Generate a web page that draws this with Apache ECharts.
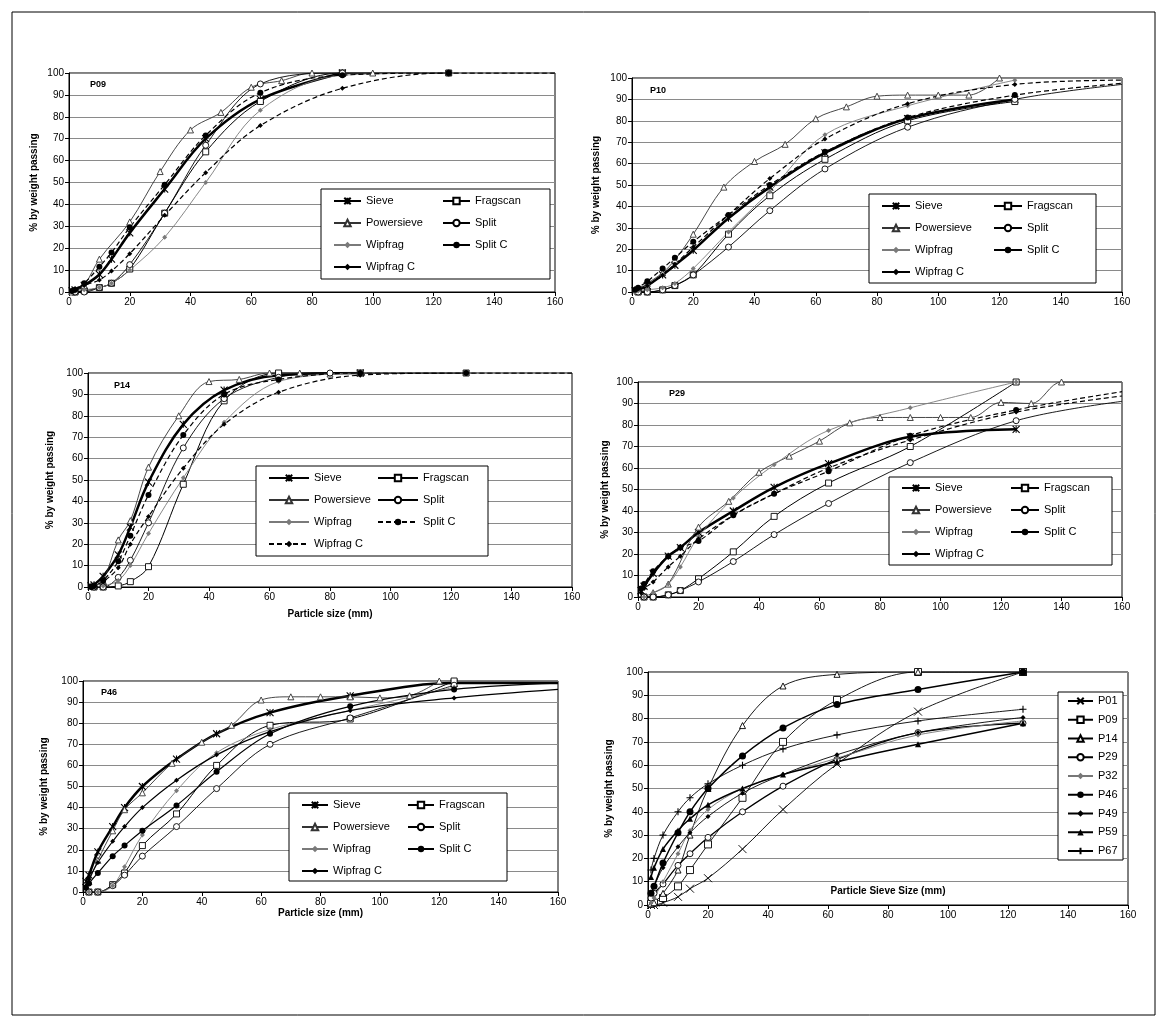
<!DOCTYPE html>
<html><head><meta charset="utf-8">
<script src="https://cdn.jsdelivr.net/npm/echarts/dist/echarts.min.js"></script>
<style>html,body{margin:0;padding:0;background:#fff}#c{width:1168px;height:1027px}</style>
</head><body><div id="c"></div>
<script>
// ---------------- DATA (particle size mm, % passing) ----------------
// P09
const p09Sieve      = [[1,0.5],[2,1],[5,3],[10,8],[14,15],[20,27],[31.5,47],[45,70],[63,88],[90,100]];
const p09Fragscan   = [[2,0],[5,0.5],[10,2],[14,4],[20,10.5],[31.5,36],[45,64],[63,87],[90,100],[125,100]];
const p09Powersieve = [[1,0],[2,0.5],[5,3],[10,15],[20,32],[30,55],[40,74],[50,82],[60,93.5],[70,96.5],[80,100],[100,100]];
const p09Split      = [[2,0],[5,0],[10,2],[14,4],[20,12.5],[31.5,36],[45,67],[63,95],[90,100],[125,100]];
const p09Wipfrag    = [[1,0],[2,0.5],[5,1],[10,2],[14,4],[20,10],[31.5,25],[45,50],[63,83],[90,99],[125,100]];
const p09SplitC     = [[1,0.5],[2,1],[5,4],[10,11.5],[14,18],[20,29.5],[31.5,49],[45,71.5],[63,91],[90,99],[125,100],[160,100]];
const p09WipfragC   = [[1,0.5],[2,1],[5,3],[10,5.5],[14,9.6],[20,17.5],[31.5,35],[45,54.5],[63,76],[90,93],[125,100],[160,100]];
// P10
const p10Sieve      = [[1,0.5],[2,1],[5,3],[10,8],[14,12.5],[20,19.5],[31.5,34.5],[45,49],[63,65],[90,81],[125,90]];
const p10Fragscan   = [[2,0],[5,0],[10,1],[14,3],[20,8],[31.5,27],[45,45],[63,62],[90,80],[125,89]];
const p10Powersieve = [[2,1],[5,4],[10,9],[14,15],[20,27],[30,49],[40,61],[50,69],[60,81],[70,86.5],[80,91.5],[90,92],[100,92],[110,92],[120,100]];
const p10Split      = [[2,0],[5,0],[10,1],[14,3],[20,8],[31.5,21],[45,38],[63,57.5],[90,77],[125,90],[160,97]];
const p10Wipfrag    = [[1,0],[2,0.5],[5,1],[10,2],[14,4],[20,11],[31.5,28],[45,47],[63,73.5],[90,87],[125,99]];
const p10SplitC     = [[1,1],[2,2],[5,5],[10,11],[14,16],[20,23.5],[31.5,36],[45,50],[63,65.5],[90,81.5],[125,92],[160,97.5]];
const p10WipfragC   = [[1,1],[2,1.5],[5,3],[10,8],[14,13],[20,21],[31.5,36],[45,53],[63,71.5],[90,88],[125,97],[160,99]];
// P14
const p14Sieve      = [[1,0.5],[2,1],[5,5],[10,15],[14,28],[20,49],[31.5,76],[45,92],[63,99],[90,100]];
const p14Fragscan   = [[2,0],[5,0],[10,0.5],[14,2.5],[20,9.5],[31.5,48],[45,87],[63,100],[90,100],[125,100]];
const p14Powersieve = [[2,0.5],[5,3],[10,22],[14,31],[20,56],[30,80],[40,96],[50,97],[60,100],[70,100],[80,99.5]];
const p14Split      = [[2,0],[5,0],[10,4.5],[14,12.5],[20,30],[31.5,65],[45,88],[63,98],[80,100]];
const p14Wipfrag    = [[2,0],[5,0.5],[10,3],[14,10],[20,25],[31.5,51],[45,77],[63,96],[90,100]];
const p14SplitC     = [[1,0],[2,0.5],[5,3],[10,12],[14,24],[20,43],[31.5,71],[45,90],[63,97],[90,100],[125,100],[160,100]];
const p14WipfragC   = [[1,0],[2,0.5],[5,2.5],[10,9],[14,20],[20,33],[31.5,55.5],[45,76],[63,91],[90,99],[125,100],[160,100]];
// P29
const p29Sieve      = [[1,3],[2,5],[5,11],[10,19],[14,23],[20,30],[31.5,40],[45,51],[63,62],[90,74.5],[125,78]];
const p29Fragscan   = [[2,0],[5,0],[10,1],[14,3],[20,8.5],[31.5,21],[45,37.5],[63,53],[90,70],[125,100]];
const p29Powersieve = [[5,2],[10,6],[20,32.5],[30,44.5],[40,58],[50,65.5],[60,72.5],[70,81],[80,83.5],[90,83.5],[100,83.5],[110,83.5],[120,90.5],[130,90],[140,100],[160,100]];
const p29Split      = [[2,0],[5,0],[10,1],[14,3],[20,7],[31.5,16.5],[45,29],[63,43.5],[90,62.5],[125,82],[160,91]];
const p29Wipfrag    = [[2,0],[5,2],[10,6],[14,14],[20,28],[31.5,46],[45,61.5],[63,77.5],[90,88],[125,100]];
const p29SplitC     = [[1,4],[2,6],[5,12],[10,19],[14,23],[20,26],[31.5,38],[45,48],[63,58.5],[90,75],[125,87],[160,95.5]];
const p29WipfragC   = [[1,2],[2,4],[5,7],[10,14],[14,19],[20,27],[31.5,38],[45,48],[63,60],[90,73],[125,86],[160,93.5]];
// P46
const p46Sieve      = [[1,5],[2,8],[5,19],[10,31],[14,40],[20,50],[31.5,63],[45,75],[63,85],[90,93],[125,99],[160,99]];
const p46Fragscan   = [[2,0],[5,0],[10,3.5],[14,9],[20,22],[31.5,37],[45,60],[63,79],[90,82],[125,100]];
const p46Powersieve = [[2,5],[5,15],[10,29],[14,39],[20,47],[30,61],[40,71],[50,79],[60,91],[70,92.5],[80,92.5],[90,92.5],[100,92],[110,93],[120,100]];
const p46Split      = [[2,0],[5,0],[10,3],[14,8],[20,17],[31.5,31],[45,49],[63,70],[90,82.5],[125,98]];
const p46Wipfrag    = [[2,0],[5,0],[10,3],[14,12],[20,27],[31.5,48],[45,66],[63,77],[90,86],[125,97]];
const p46SplitC     = [[1,2],[2,4],[5,9],[10,17],[14,22],[20,29],[31.5,41],[45,57],[63,75],[90,88],[125,96],[160,99]];
const p46WipfragC   = [[1,3],[2,6],[5,14],[10,24],[14,31],[20,40],[31.5,53],[45,65],[63,76],[90,86],[125,92],[160,96]];
// Sieve results of all sites
const sieveSizes = [1, 2, 5, 10, 14, 20, 31.5, 45, 63, 90, 125];
const sP01 = [0, 0, 1, 3.5, 7, 11.5, 24, 41, 60.5, 83, 100];
const sP09 = [0.5, 1, 3, 8, 15, 26, 46, 70, 88, 100, 100];
const sP14 = [0.5, 1, 5, 15, 30, 50, 77, 94, 99, 100, 100];
const sP29 = [3, 5, 9, 17, 22, 29, 40, 51, 62.5, 74, 78];
const sP32 = [1, 3, 10, 22, 32, 41, 50, 56, 63, 73, 79];
const sP46 = [5, 8, 18, 31, 40, 50, 64, 76, 86, 92.5, 100];
const sP49 = [5, 8, 16, 25, 31, 38, 48, 56, 64.5, 74, 80.5];
const sP59 = [12, 16, 24, 32, 37, 43, 50, 56, 61.5, 69, 78];
const sP67 = [15, 20, 30, 40, 46, 52, 60, 67, 73, 79, 84];
const siteNames = ['P01','P09','P14','P29','P32','P46','P49','P59','P67'];
const methodNames = ['Sieve','Fragscan','Powersieve','Split','Wipfrag','Split C','Wipfrag C'];
const panelNames = ['P09','P10','P14','P29','P46'];
const xTicks = [0,20,40,60,80,100,120,140,160];
const yTicks = [0,10,20,30,40,50,60,70,80,90,100];

// ---------------- STYLE / LAYOUT ----------------
const FONT = '"Liberation Sans", Arial, Helvetica, sans-serif';
const XSTAR = 'path://M0,0L10,10M10,0L0,10M5,0L5,10';
const XMARK = 'path://M0,0L10,10M10,0L0,10';
const PLUS  = 'path://M5,0L5,10M0,5L10,5';
const DASH = [5, 3];

const methodStyle = {
  'Sieve':      {symbol: XSTAR, size: 7, color: '#000', fill: '#000', width: 2.5, bw: 1.1},
  'Fragscan':   {symbol: 'rect', size: 6, color: '#000', fill: '#fff', width: 1, bw: 0.9},
  'Powersieve': {symbol: 'triangle', size: 6, color: '#333', fill: '#fff', width: 0.9, bw: 0.9},
  'Split':      {symbol: 'circle', size: 6, color: '#000', fill: '#fff', width: 0.9, bw: 0.9},
  'Wipfrag':    {symbol: 'diamond', size: 5, color: '#7a7a7a', fill: '#7a7a7a', width: 0.9, bw: 0},
  'Split C':    {symbol: 'circle', size: 6, color: '#000', fill: '#000', width: 1.2, bw: 0, dash: true},
  'Wipfrag C':  {symbol: 'diamond', size: 5, color: '#000', fill: '#000', width: 1.2, bw: 0, dash: true}
};
const siteStyle = {
  'P01': {symbol: XMARK, size: 8, color: '#000', fill: '#000', width: 0.9, bw: 0.9},
  'P09': {symbol: 'rect', size: 7, color: '#000', fill: '#fff', width: 0.9, bw: 0.9},
  'P14': {symbol: 'triangle', size: 6, color: '#000', fill: '#fff', width: 0.9, bw: 0.9},
  'P29': {symbol: 'circle', size: 6, color: '#000', fill: '#fff', width: 1.3, bw: 0.9},
  'P32': {symbol: 'diamond', size: 5, color: '#777', fill: '#777', width: 0.9, bw: 0},
  'P46': {symbol: 'circle', size: 7, color: '#000', fill: '#000', width: 1.5, bw: 0},
  'P49': {symbol: 'diamond', size: 5, color: '#000', fill: '#000', width: 0.9, bw: 0},
  'P59': {symbol: 'triangle', size: 6, color: '#000', fill: '#000', width: 1.5, bw: 0},
  'P67': {symbol: PLUS, size: 7, color: '#000', fill: '#000', width: 0.9, bw: 1.1}
};

const grids = [
  {left: 69,  top: 73,  width: 486, height: 219},
  {left: 632, top: 78,  width: 490, height: 214},
  {left: 88,  top: 373, width: 484, height: 214},
  {left: 638, top: 382, width: 484, height: 215},
  {left: 83,  top: 681, width: 475, height: 211},
  {left: 648, top: 672, width: 480, height: 233}
].map(g => Object.assign(g, {show: true, borderColor: '#000', borderWidth: 1, backgroundColor: 'transparent', containLabel: false, outerBoundsMode: 'none'}));

const yNameGap = [30, 31, 33, 28, 34, 34];
const xAxisNames = ['', '', 'Particle size (mm)', '', 'Particle size (mm)', 'Particle Sieve Size (mm)'];
const xNameGap = [0, 0, 22, 0, 16, -19];

const panelData = [
  [p09Sieve, p09Fragscan, p09Powersieve, p09Split, p09Wipfrag, p09SplitC, p09WipfragC],
  [p10Sieve, p10Fragscan, p10Powersieve, p10Split, p10Wipfrag, p10SplitC, p10WipfragC],
  [p14Sieve, p14Fragscan, p14Powersieve, p14Split, p14Wipfrag, p14SplitC, p14WipfragC],
  [p29Sieve, p29Fragscan, p29Powersieve, p29Split, p29Wipfrag, p29SplitC, p29WipfragC],
  [p46Sieve, p46Fragscan, p46Powersieve, p46Split, p46Wipfrag, p46SplitC, p46WipfragC]
];
const dashedPanels = [true, true, true, true, false];
const siteData = [sP01, sP09, sP14, sP29, sP32, sP46, sP49, sP59, sP67];

// legend boxes: [boxLeft, boxTop, boxWidth, boxHeight, firstRowCenterY, iconWidth, col2Offset]
const legendBoxes = [
  [321, 189, 229, 90, 201, 27, 121],
  [869, 194, 227, 89, 206, 28, 124],
  [256, 466, 232, 90, 478, 40, 121],
  [889, 477, 223, 88, 488, 28, 121],
  [289, 793, 218, 88, 805, 26, 118]
];
const titlePos = [[90, 80], [650, 86], [114, 381], [669, 389], [101, 688]];

function mkSeries(idx, name, pts, st, dashed) {
  return {
    type: 'line', name: name, xAxisIndex: idx, yAxisIndex: idx,
    data: pts.map(p => p[0] >= 160 ? {value: p, symbol: 'none'} : p),
    smooth: 0.35, symbol: st.symbol, symbolSize: st.size, showSymbol: true,
    lineStyle: {color: st.color, width: st.width, type: dashed ? DASH : 'solid'},
    itemStyle: {color: st.fill, borderColor: st.color, borderWidth: st.bw},
    emphasis: {disabled: true}, animation: false, clip: true, z: 2
  };
}

const series = [];
panelData.forEach((arrs, pi) => {
  arrs.forEach((pts, si) => {
    const nm = methodNames[si];
    const st = methodStyle[nm];
    series.push(mkSeries(pi, nm, pts, st, st.dash && dashedPanels[pi]));
  });
});
siteData.forEach((ys, k) => {
  const nm = siteNames[k];
  series.push(mkSeries(5, nm, sieveSizes.map((x, j) => [x, ys[j]]), siteStyle[nm], false));
});

const xAxis = grids.map((g, i) => ({
  gridIndex: i, type: 'value', min: 0, max: 160, interval: 20,
  axisLine: {show: true, onZero: false, lineStyle: {color: '#000', width: 1}},
  axisTick: {show: true, length: 4, lineStyle: {color: '#000'}},
  axisLabel: {fontSize: 10, color: '#000', margin: 5, fontFamily: FONT,
              formatter: v => xTicks.indexOf(v) >= 0 ? String(v) : ''},
  splitLine: {show: false},
  name: xAxisNames[i], nameLocation: 'middle', nameGap: xNameGap[i],
  nameTextStyle: {fontWeight: 'bold', fontSize: 10, color: '#000', fontFamily: FONT}
}));
const yAxis = grids.map((g, i) => ({
  gridIndex: i, type: 'value', min: 0, max: 100, interval: 10,
  axisLine: {show: true, onZero: false, lineStyle: {color: '#000', width: 1}},
  axisTick: {show: true, length: 4, lineStyle: {color: '#000'}},
  axisLabel: {fontSize: 10, color: '#000', margin: 5, fontFamily: FONT,
              formatter: v => yTicks.indexOf(v) >= 0 ? String(v) : ''},
  splitLine: {show: true, lineStyle: {color: '#8a8a8a', width: 1}},
  name: '% by weight passing', nameLocation: 'middle', nameGap: yNameGap[i], nameRotate: 90,
  nameTextStyle: {fontWeight: 'bold', fontSize: 10, color: '#000', fontFamily: FONT}
}));

const legends = [];
const graphics = [{type: 'rect', shape: {x: 12, y: 12, width: 1143, height: 1003},
                   style: {fill: 'none', stroke: '#000', lineWidth: 1}, z: 10}];
const ROW_H = 11, ITEM_GAP = 11;
legendBoxes.forEach((b, pi) => {
  const [bl, bt, bw, bh, r0, iw, c2] = b;
  graphics.push({type: 'rect', shape: {x: bl, y: bt, width: bw, height: bh},
                 style: {fill: '#fff', stroke: '#000', lineWidth: 1}, z: 3});
  const dashLeg = pi === 2;
  const item = n => (n === 'Split C' || n === 'Wipfrag C') ? {name: n, lineStyle: {type: dashLeg ? DASH : 'solid'}} : {name: n};
  const common = {orient: 'vertical', top: r0 - ROW_H / 2, padding: 0, itemGap: ITEM_GAP,
    itemWidth: iw, itemHeight: 8, selectedMode: false, z: 5,
    textStyle: {fontSize: 11, color: '#000', fontFamily: FONT}};
  legends.push(Object.assign({}, common, {left: bl + 12, data: ['Sieve', 'Powersieve', 'Wipfrag', 'Wipfrag C'].map(item)}));
  legends.push(Object.assign({}, common, {left: bl + c2, data: ['Fragscan', 'Split', 'Split C'].map(item)}));
  const t = titlePos[pi];
  graphics.push({type: 'text', left: t[0], top: t[1], z: 6,
                 style: {text: panelNames[pi], font: 'bold 9px ' + FONT, fill: '#000'}});
});
// site legend (last panel)
graphics.push({type: 'rect', shape: {x: 1058, y: 692, width: 65, height: 168},
               style: {fill: '#fff', stroke: '#000', lineWidth: 1}, z: 3});
legends.push({orient: 'vertical', left: 1067, top: 701 - 5.5, padding: 0, itemGap: 7.75,
  itemWidth: 25, itemHeight: 8, selectedMode: false, z: 5,
  textStyle: {fontSize: 11, color: '#000', fontFamily: FONT}, data: siteNames});

const chart = echarts.init(document.getElementById('c'), null, {renderer: 'canvas'});
chart.setOption({
  backgroundColor: '#fff', animation: false,
  textStyle: {fontFamily: FONT},
  grid: grids, xAxis: xAxis, yAxis: yAxis,
  legend: legends, series: series, graphic: graphics
});
</script></body></html>
